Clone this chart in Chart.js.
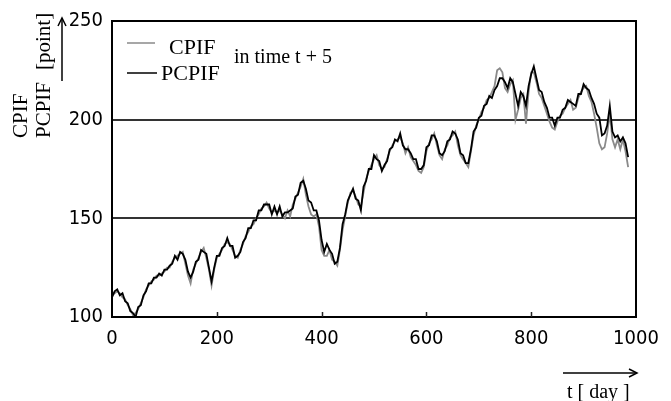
<!DOCTYPE html>
<html>
<head>
<meta charset="utf-8">
<script src="https://cdn.jsdelivr.net/npm/chart.js@4/dist/chart.umd.min.js"></script>
<style>
html,body{margin:0;padding:0;background:#fff;}
#wrap{width:671px;height:401px;position:relative;}
</style>
</head>
<body>
<div id="wrap"><canvas id="c" width="671" height="401"></canvas></div>
<script>
// x positions (day), every 5 days
const DAY_STEP = 5;
// PCPIF (black) values
const pcpif = [110,113,114,111,112,108,107,103,102,100,
105,106,111,113,117,117,120,120,122,121,
124,124,126,127,131,129,133,132,129,123,
120,123,128,129,134,133,132,125,118,125,
131,131,135,136,140,136,136,130,131,133,
138,140,145,145,149,149,154,154,157,157,
157,152,156,152,156,151,153,153,154,155,
161,162,168,169,165,159,158,154,154,149,
139,133,137,134,132,127,128,135,147,152,
159,162,165,160,159,154,166,169,175,175,
182,180,179,174,177,179,185,186,190,189,
193,187,185,185,183,180,180,175,175,177,
186,187,192,192,189,183,182,184,189,190,
194,193,190,183,182,178,178,185,194,196,
201,202,207,208,212,211,215,217,221,221,
219,216,221,219,213,207,214,212,207,217,
223,227,221,215,214,209,206,201,201,197,
201,201,205,206,210,209,208,207,213,213,
218,216,215,211,208,203,201,192,193,197,
207,194,191,192,189,191,188,181];
// CPIF (gray) values
const cpif = [111,112,113,112,110,109,106,104,101,102,
104,107,110,114,116,118,119,121,121,122,
123,125,125,128,130,131,132,133,127,121,
117,124,127,130,133,135,130,124,116,124,
130,132,134,137,138,137,134,131,130,134,
137,141,143,146,147,150,152,155,156,158,
155,153,154,153,154,152,150,154,151,157,
160,163,166,170,162,156,152,151,152,146,
134,131,131,134,129,128,126,134,144,151,
158,163,164,161,157,156,163,170,174,177,
180,182,177,175,176,180,184,187,189,190,
191,188,183,186,181,179,177,174,173,176,
184,188,190,193,187,182,180,185,187,191,
192,194,187,182,180,178,176,184,192,197,
200,204,206,210,211,214,217,225,226,224,
216,214,218,220,200,205,211,213,198,214,
224,224,219,213,211,207,203,199,196,195,
199,202,203,206,208,210,205,206,211,214,
216,217,212,209,203,196,188,185,186,193,
203,190,186,190,185,190,184,176];
const xTicks = [0,200,400,600,800,1000];
const yTicks = [100,150,200,250];

const days = pcpif.map((_, i) => i * DAY_STEP);
const blackPts = days.map((d, i) => ({x: d, y: pcpif[i]}));
const grayPts = days.map((d, i) => ({x: d, y: cpif[i]}));

const SERIF = '"Liberation Serif","Times New Roman",serif';
const SANS = '"Liberation Sans Narrow","DejaVu Sans Condensed","Liberation Sans",Arial,sans-serif';

const decor = {
  id: 'decor',
  afterDraw(chart) {
    const ctx = chart.ctx;
    const a = chart.chartArea;
    const xs = chart.scales.x;
    ctx.save();
    // box
    ctx.strokeStyle = '#000';
    ctx.lineWidth = 2;
    ctx.strokeRect(a.left, a.top, a.right - a.left, a.bottom - a.top);
    // inward x tick marks
    ctx.lineWidth = 1.5;
    ctx.strokeStyle = '#222';
    xTicks.slice(1, -1).forEach(v => {
      const px = Math.round(xs.getPixelForValue(v)) + 0.5;
      ctx.beginPath();
      ctx.moveTo(px, a.bottom);
      ctx.lineTo(px, a.bottom - 5);
      ctx.stroke();
    });
    // legend
    ctx.fillStyle = '#000';
    ctx.textBaseline = 'alphabetic';
    ctx.textAlign = 'left';
    ctx.strokeStyle = '#8a8a8a';
    ctx.lineWidth = 1.5;
    ctx.beginPath(); ctx.moveTo(127, 43); ctx.lineTo(155, 43); ctx.stroke();
    ctx.strokeStyle = '#000';
    ctx.beginPath(); ctx.moveTo(127, 73); ctx.lineTo(157, 73); ctx.stroke();
    ctx.font = '22px ' + SERIF;
    ctx.fillText('CPIF', 169, 54);
    ctx.fillText('PCPIF', 161, 80);
    ctx.font = '20px ' + SERIF;
    ctx.fillText('in time t + 5', 234, 63);
    // y title (rotated)
    ctx.font = '21px ' + SERIF;
    ctx.save();
    ctx.translate(21, 138);
    ctx.rotate(-Math.PI / 2);
    ctx.textBaseline = 'middle';
    ctx.fillText('CPIF', 0, 0);
    ctx.restore();
    ctx.save();
    ctx.translate(44, 138);
    ctx.rotate(-Math.PI / 2);
    ctx.textBaseline = 'middle';
    ctx.fillText('PCPIF', 0, 0);
    ctx.fillText('[point]', 68, 0);
    ctx.restore();
    // y arrow
    ctx.strokeStyle = '#000';
    ctx.lineWidth = 1.5;
    ctx.beginPath(); ctx.moveTo(62, 81); ctx.lineTo(62, 18); ctx.stroke();
    ctx.beginPath(); ctx.moveTo(58, 26); ctx.lineTo(62, 18); ctx.lineTo(66, 26); ctx.stroke();
    // x arrow
    ctx.beginPath(); ctx.moveTo(563, 373); ctx.lineTo(637, 373); ctx.stroke();
    ctx.beginPath(); ctx.moveTo(629, 369); ctx.lineTo(637, 373); ctx.lineTo(629, 377); ctx.stroke();
    // x title
    ctx.font = '20px ' + SERIF;
    ctx.fillText('t [ day ]', 567, 398);
    ctx.restore();
  }
};

new Chart(document.getElementById('c'), {
  type: 'line',
  data: {
    datasets: [
      {label: 'CPIF', data: grayPts, borderColor: '#8a8a8a', borderWidth: 1.8, pointRadius: 0, tension: 0, order: 1},
      {label: 'PCPIF', data: blackPts, borderColor: '#000', borderWidth: 1.8, pointRadius: 0, tension: 0, order: 0}
    ]
  },
  options: {
    responsive: false,
    animation: false,
    events: [],
    layout: {padding: {left: 0, right: 35, top: 15, bottom: 0}},
    plugins: {legend: {display: false}, tooltip: {enabled: false}},
    scales: {
      x: {
        type: 'linear', min: 0, max: 1000,
        afterFit(s) { s.height = 84; },
        afterBuildTicks(s) { s.ticks = xTicks.map(v => ({value: v})); },
        grid: {display: false, drawTicks: false},
        border: {display: false},
        ticks: {color: '#000', padding: 10, maxRotation: 0, font: {family: SANS, size: 20},
                callback: v => String(v)}
      },
      y: {
        type: 'linear', min: 100, max: 250,
        afterFit(s) { s.width = 112; },
        afterBuildTicks(s) { s.ticks = yTicks.map(v => ({value: v})); },
        grid: {display: true, drawTicks: false, color: '#333', lineWidth: 2},
        border: {display: false},
        ticks: {color: '#000', padding: 9, font: {family: SANS, size: 20},
                callback: v => String(v)}
      }
    }
  },
  plugins: [decor]
});
</script>
</body>
</html>
